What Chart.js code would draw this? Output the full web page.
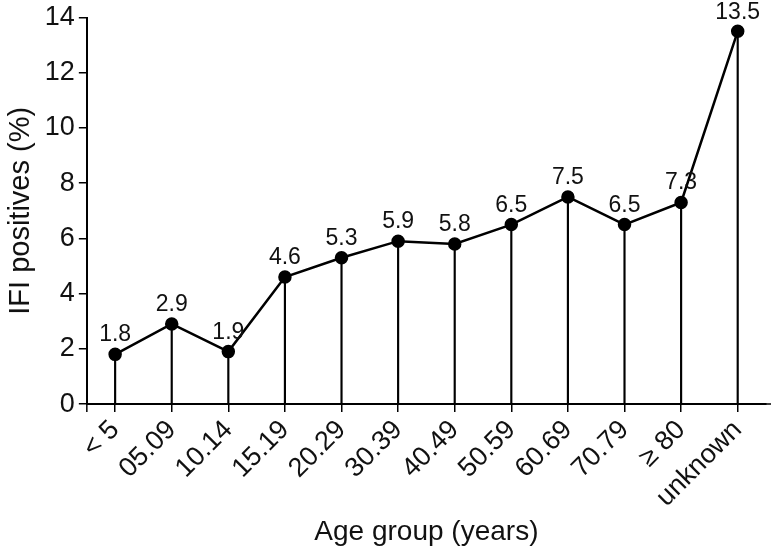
<!DOCTYPE html>
<html>
<head>
<meta charset="utf-8">
<script src="https://cdn.jsdelivr.net/npm/chart.js@4/dist/chart.umd.min.js"></script>
<style>
html,body{margin:0;padding:0;background:#fff;}
#wrap{width:776px;height:549px;}
</style>
</head>
<body>
<div id="wrap"><canvas id="c" width="776" height="549"></canvas></div>
<script>
const categories = ["< 5","05.09","10.14","15.19","20.29","30.39","40.49","50.59","60.69","70.79","\u2265 80","unknown"];
const positives = [1.8, 2.9, 1.9, 4.6, 5.3, 5.9, 5.8, 6.5, 7.5, 6.5, 7.3, 13.5];
const yTicks = [0, 2, 4, 6, 8, 10, 12, 14];
const xTitle = "Age group (years)";
const yTitle = "IFI positives (%)";

const FONT = "'Liberation Sans', Arial, Helvetica, sans-serif";

const extras = {
  id: 'extras',
  afterDraw(chart) {
    const ctx = chart.ctx;
    const a = chart.chartArea;
    ctx.save();
    ctx.strokeStyle = '#000';
    ctx.lineWidth = 1.5;
    ctx.beginPath();
    ctx.moveTo(a.left, a.bottom);
    ctx.lineTo(a.left, a.bottom + 8);
    ctx.moveTo(a.right, a.bottom);
    ctx.lineTo(a.right + 5, a.bottom);
    ctx.stroke();
    // data labels
    const meta = chart.getDatasetMeta(1);
    ctx.fillStyle = '#111';
    ctx.font = "23px " + FONT;
    ctx.textAlign = 'center';
    ctx.textBaseline = 'alphabetic';
    meta.data.forEach((pt, i) => {
      const yb = Math.max(pt.y - 13, 19);
      ctx.fillText(String(positives[i]), pt.x, yb);
    });
    ctx.restore();
  }
};

new Chart(document.getElementById('c'), {
  data: {
    labels: categories,
    datasets: [
      {
        type: 'bar',
        data: positives,
        backgroundColor: '#000',
        borderWidth: 0,
        barThickness: 1.5,
        order: 2
      },
      {
        type: 'line',
        data: positives,
        borderColor: '#000',
        borderWidth: 2.5,
        pointBackgroundColor: '#000',
        pointBorderColor: '#000',
        pointRadius: 5.5,
        pointHoverRadius: 5.5,
        tension: 0,
        fill: false,
        order: 1
      }
    ]
  },
  options: {
    responsive: false,
    animation: false,
    events: [],
    layout: { padding: { top: 1, right: 10, left: 4, bottom: 0 } },
    plugins: { legend: { display: false }, tooltip: { enabled: false } },
    scales: {
      x: {
        offset: true,
        grid: { display: true, drawOnChartArea: false, offset: false, tickLength: 8, color: '#000', lineWidth: 1.5 },
        border: { display: true, color: '#000', width: 2 },
        ticks: { color: '#111', font: { family: FONT, size: 27 }, maxRotation: 45, minRotation: 45, padding: 2, autoSkip: false },
        title: { display: true, text: xTitle, color: '#111', font: { family: FONT, size: 28 }, padding: { top: 0, bottom: 0 } }
      },
      y: {
        min: 0, max: 14,
        afterBuildTicks(scale) { scale.ticks = yTicks.map(v => ({ value: v })); },
        grid: { display: true, drawOnChartArea: false, tickLength: 8, color: '#000', lineWidth: 1.5 },
        border: { display: true, color: '#000', width: 2 },
        ticks: { color: '#111', font: { family: FONT, size: 27, lineHeight: 1.0 }, padding: 4 },
        title: { display: true, text: yTitle, color: '#111', font: { family: FONT, size: 29 }, padding: { top: 0, bottom: 2 } }
      }
    }
  },
  plugins: [extras]
});
</script>
</body>
</html>
